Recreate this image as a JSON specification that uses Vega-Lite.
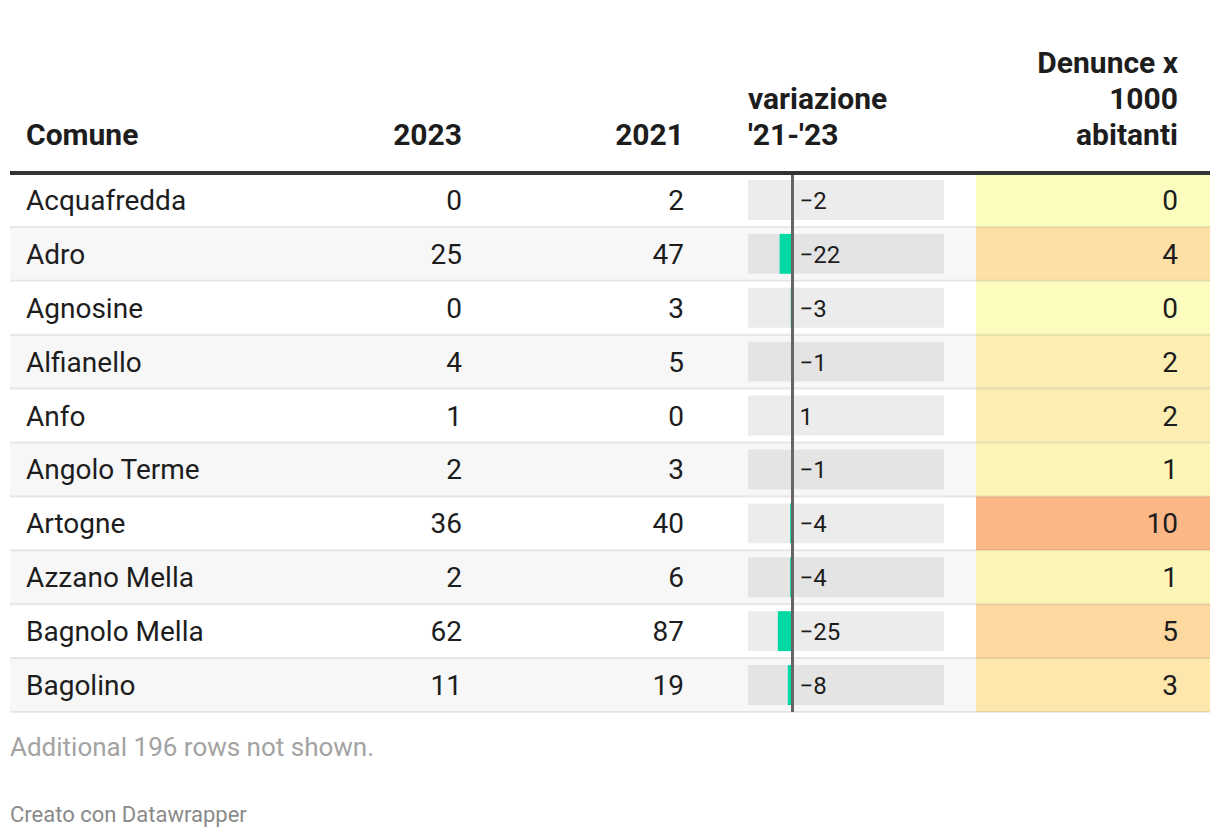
{
  "$schema": "https://vega.github.io/schema/vega-lite/v6.json",
  "padding": {"left": 8, "right": 8, "top": 49, "bottom": 10},
  "background": "white",
  "spacing": 0,
  "bounds": "flush",
  "config": {
    "view": {"stroke": null},
    "font": "Roboto",
    "title": {"font": "Roboto", "fontSize": 30, "fontWeight": "bold", "color": "#1d1d1d", "lineHeight": 36, "frame": "group", "offset": 20, "baseline": "bottom"}
  },
  "title": {
    "text": "Additional 196 rows not shown.",
    "subtitle": "Creato con Datawrapper",
    "orient": "bottom",
    "anchor": "start",
    "frame": "bounds",
    "dx": 2,
    "fontSize": 26,
    "fontWeight": "normal",
    "color": "#a3a3a3",
    "lineHeight": 26,
    "baseline": "top",
    "offset": 22,
    "subtitleFont": "Roboto",
    "subtitleFontSize": 22,
    "subtitleColor": "#8a8a8a",
    "subtitlePadding": 44
  },
  "data": {
    "values": [
      {"Comune": "Acquafredda", "y2023": 0, "y2021": 2, "var": -2, "rate": 0},
      {"Comune": "Adro", "y2023": 25, "y2021": 47, "var": -22, "rate": 4},
      {"Comune": "Agnosine", "y2023": 0, "y2021": 3, "var": -3, "rate": 0},
      {"Comune": "Alfianello", "y2023": 4, "y2021": 5, "var": -1, "rate": 2},
      {"Comune": "Anfo", "y2023": 1, "y2021": 0, "var": 1, "rate": 2},
      {"Comune": "Angolo Terme", "y2023": 2, "y2021": 3, "var": -1, "rate": 1},
      {"Comune": "Artogne", "y2023": 36, "y2021": 40, "var": -4, "rate": 10},
      {"Comune": "Azzano Mella", "y2023": 2, "y2021": 6, "var": -4, "rate": 1},
      {"Comune": "Bagnolo Mella", "y2023": 62, "y2021": 87, "var": -25, "rate": 5},
      {"Comune": "Bagolino", "y2023": 11, "y2021": 19, "var": -8, "rate": 3}
    ]
  },
  "transform": [{"window": [{"op": "row_number", "as": "rn"}]}],
  "hconcat": [
    {
      "width": 290, "height": 539,
      "title": {"text": "Comune", "anchor": "start", "dx": 16},
      "layer": [
        {"transform": [{"filter": "datum.rn % 2 == 0"}], "mark": {"type": "rect", "color": "#f7f7f7"},
         "encoding": {"y": {"field": "Comune", "type": "nominal", "sort": "ascending", "axis": null, "scale": {"paddingInner": 0, "paddingOuter": 0}}, "x": {"value": 0}, "x2": {"value": "width"}}},
        {"mark": {"type": "rule", "color": "#000", "opacity": 0.08, "strokeWidth": 2},
         "encoding": {"y": {"field": "Comune", "type": "nominal", "sort": "ascending", "axis": null, "bandPosition": 1}}},
        {"mark": {"type": "text", "align": "left", "baseline": "middle", "dx": 16, "dy": 2, "fontSize": 28, "color": "#1d1d1d"},
         "encoding": {"y": {"field": "Comune", "type": "nominal", "sort": "ascending", "axis": null}, "x": {"value": 0}, "text": {"field": "Comune"}}},
        {"mark": {"type": "rule", "color": "#333", "strokeWidth": 4}, "encoding": {"y": {"value": 0}}}
      ]
    },
    {
      "width": 180, "height": 539,
      "title": {"text": "2023", "anchor": "end", "dx": -18},
      "layer": [
        {"transform": [{"filter": "datum.rn % 2 == 0"}], "mark": {"type": "rect", "color": "#f7f7f7"},
         "encoding": {"y": {"field": "Comune", "type": "nominal", "sort": "ascending", "axis": null, "scale": {"paddingInner": 0, "paddingOuter": 0}}, "x": {"value": 0}, "x2": {"value": "width"}}},
        {"mark": {"type": "rule", "color": "#000", "opacity": 0.08, "strokeWidth": 2},
         "encoding": {"y": {"field": "Comune", "type": "nominal", "sort": "ascending", "axis": null, "bandPosition": 1}}},
        {"mark": {"type": "text", "align": "right", "baseline": "middle", "dx": -18, "dy": 2, "fontSize": 28, "color": "#1d1d1d"},
         "encoding": {"y": {"field": "Comune", "type": "nominal", "sort": "ascending", "axis": null}, "x": {"value": "width"}, "text": {"field": "y2023", "type": "quantitative", "format": "d"}}},
        {"mark": {"type": "rule", "color": "#333", "strokeWidth": 4}, "encoding": {"y": {"value": 0}}}
      ]
    },
    {
      "width": 220, "height": 539,
      "title": {"text": "2021", "anchor": "end", "dx": -16},
      "layer": [
        {"transform": [{"filter": "datum.rn % 2 == 0"}], "mark": {"type": "rect", "color": "#f7f7f7"},
         "encoding": {"y": {"field": "Comune", "type": "nominal", "sort": "ascending", "axis": null, "scale": {"paddingInner": 0, "paddingOuter": 0}}, "x": {"value": 0}, "x2": {"value": "width"}}},
        {"mark": {"type": "rule", "color": "#000", "opacity": 0.08, "strokeWidth": 2},
         "encoding": {"y": {"field": "Comune", "type": "nominal", "sort": "ascending", "axis": null, "bandPosition": 1}}},
        {"mark": {"type": "text", "align": "right", "baseline": "middle", "dx": -16, "dy": 2, "fontSize": 28, "color": "#1d1d1d"},
         "encoding": {"y": {"field": "Comune", "type": "nominal", "sort": "ascending", "axis": null}, "x": {"value": "width"}, "text": {"field": "y2021", "type": "quantitative", "format": "d"}}},
        {"mark": {"type": "rule", "color": "#333", "strokeWidth": 4}, "encoding": {"y": {"value": 0}}}
      ]
    },
    {
      "width": 276, "height": 539,
      "title": {"text": ["variazione", "'21-'23"], "anchor": "start", "dx": 48},
      "layer": [
        {"transform": [{"filter": "datum.rn % 2 == 0"}], "mark": {"type": "rect", "color": "#f7f7f7"},
         "encoding": {"y": {"field": "Comune", "type": "nominal", "sort": "ascending", "axis": null, "scale": {"paddingInner": 0, "paddingOuter": 0}}, "x": {"value": 0}, "x2": {"value": "width"}}},
        {"mark": {"type": "rule", "color": "#000", "opacity": 0.08, "strokeWidth": 2},
         "encoding": {"y": {"field": "Comune", "type": "nominal", "sort": "ascending", "axis": null, "bandPosition": 1}}},
        {"mark": {"type": "bar", "color": "#000", "opacity": 0.075, "height": {"band": 0.74}},
         "encoding": {"y": {"field": "Comune", "type": "nominal", "sort": "ascending", "axis": null},
                      "x": {"datum": -76, "type": "quantitative", "axis": null, "scale": {"domain": [-76, 259], "range": [48, 244], "nice": false, "zero": false}},
                      "x2": {"datum": 259}}},
        {"mark": {"type": "bar", "height": {"band": 0.74}, "opacity": 1},
         "encoding": {"y": {"field": "Comune", "type": "nominal", "sort": "ascending", "axis": null},
                      "x": {"field": "var", "type": "quantitative", "axis": null},
                      "x2": {"datum": 0},
                      "color": {"condition": {"test": "datum['var'] > 0", "value": "#b8211f"}, "value": "#00d9a3"}}},
        {"mark": {"type": "rule", "color": "#666", "strokeWidth": 2}, "encoding": {"x": {"datum": 0, "type": "quantitative"}}},
        {"mark": {"type": "text", "align": "left", "baseline": "middle", "dx": 7, "dy": 2, "fontSize": 24, "color": "#1d1d1d"},
         "encoding": {"y": {"field": "Comune", "type": "nominal", "sort": "ascending", "axis": null}, "x": {"datum": 0, "type": "quantitative"}, "text": {"field": "var", "type": "quantitative", "format": "d"}}},
        {"mark": {"type": "rule", "color": "#333", "strokeWidth": 4}, "encoding": {"y": {"value": 0}}}
      ]
    },
    {
      "width": 234, "height": 539,
      "title": {"text": ["Denunce x", "1000", "abitanti"], "anchor": "end", "dx": -32},
      "layer": [
        {"transform": [{"filter": "datum.rn % 2 == 0"}], "mark": {"type": "rect", "color": "#f7f7f7"},
         "encoding": {"y": {"field": "Comune", "type": "nominal", "sort": "ascending", "axis": null, "scale": {"paddingInner": 0, "paddingOuter": 0}}, "x": {"value": 0}, "x2": {"value": "width"}}},
        {"mark": {"type": "rect"},
         "encoding": {"y": {"field": "Comune", "type": "nominal", "sort": "ascending", "axis": null}, "x": {"value": 0}, "x2": {"value": "width"},
                      "color": {"field": "rate", "type": "quantitative", "legend": null, "scale": {"domain": [0, 5, 10], "range": ["#fcfcbe", "#fdd9a0", "#fcb787"], "interpolate": "rgb"}}}},
        {"mark": {"type": "rule", "color": "#000", "opacity": 0.08, "strokeWidth": 2},
         "encoding": {"y": {"field": "Comune", "type": "nominal", "sort": "ascending", "axis": null, "bandPosition": 1}}},
        {"mark": {"type": "text", "align": "right", "baseline": "middle", "dx": -32, "dy": 2, "fontSize": 28, "color": "#1d1d1d"},
         "encoding": {"y": {"field": "Comune", "type": "nominal", "sort": "ascending", "axis": null}, "x": {"value": "width"}, "text": {"field": "rate", "type": "quantitative", "format": "d"}}},
        {"mark": {"type": "rule", "color": "#333", "strokeWidth": 4}, "encoding": {"y": {"value": 0}}}
      ]
    }
  ]
}
